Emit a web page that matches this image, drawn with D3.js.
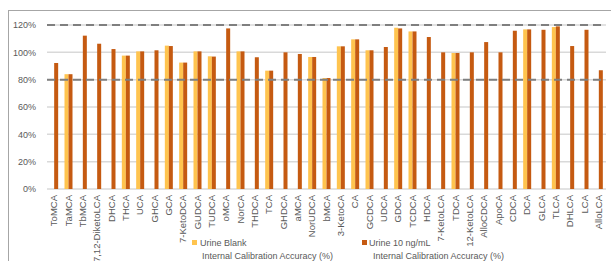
<!DOCTYPE html>
<html>
<head>
<meta charset="utf-8">
<script src="https://cdn.jsdelivr.net/npm/d3@7"></script>
<style>
  body { margin: 0; background: #fff; }
  text { font-family: "Liberation Sans", Arial, sans-serif; }
</style>
</head>
<body>
<div id="chart"></div>
<script>
const categories = ['ToMCA', 'TaMCA', 'TbMCA', '7,12-DiketoLCA', 'DHCA', 'THCA', 'UCA', 'GHCA', 'GCA',
  '7-KetoDCA', 'GUDCA', 'TUDCA', 'oMCA', 'NorCA', 'THDCA', 'TCA', 'GHDCA', 'aMCA', 'NorUDCA', 'bMCA',
  '3-KetoCA', 'CA', 'GCDCA', 'UDCA', 'GDCA', 'TCDCA', 'HDCA', '7-KetoLCA', 'TDCA', '12-KetoLCA',
  'AlloCDCA', 'ApoCA', 'CDCA', 'DCA', 'GLCA', 'TLCA', 'DHLCA', 'LCA', 'AlloLCA'];

// Urine Blank (null = no bar)
const blankValues = [null, 84, null, null, null, 97.6, 100.7, null, 104.9,
  92.5, 100.7, 97.1, null, 100.7, null, 86.6, null, null, 96.6, 81.2,
  104.4, 109.5, 101.5, null, 118, 115.3, null, null, 99.5, null,
  null, null, null, 116.8, null, 118.5, null, null, null];

// Urine 10 ng/mL
const urineValues = [92.2, 84, 112.2, 106.3, 102.4, 97.6, 100.7, 101.5, 104.6,
  92.5, 100.7, 96.9, 117.5, 100.7, 96.4, 86.6, 100, 98.8, 96.6, 81.2,
  104.4, 109.5, 101.5, 103.9, 117.5, 115.3, 111.2, 100, 99.5, 100,
  107.5, 100, 115.8, 116.8, 116.5, 119, 104.6, 116.5, 86.9];

const seriesNames = ['Urine Blank', 'Urine 10 ng/mL'];
const seriesSub = 'Internal Calibration Accuracy (%)';
const yTicks = [0, 20, 40, 60, 80, 100, 120];
const refLines = [80, 120];

const W = 611, H = 261;
const margin = {top: 25, right: 5, bottom: 72, left: 47};
const colors = ['#FFC44F', '#C55A11'];

const svg = d3.select('#chart').append('svg')
  .attr('width', W)
  .attr('height', H);

svg.append('rect').attr('width', W).attr('height', H).attr('fill', '#fff');

// chart frame (right/bottom edges fall outside the view)
svg.append('rect')
  .attr('x', 8.5).attr('y', 10.5)
  .attr('width', W + 10).attr('height', H + 10)
  .attr('fill', 'none').attr('stroke', '#A6A6A6').attr('stroke-width', 1);

const y = d3.scaleLinear()
  .domain([0, 120])
  .range([H - margin.bottom, margin.top]);

const x0 = d3.scaleBand()
  .domain(categories)
  .range([margin.left, W - margin.right]);

const inner = 8;
const x1 = d3.scaleBand()
  .domain([0, 1])
  .range([(x0.bandwidth() - inner) / 2, (x0.bandwidth() + inner) / 2]);

// gridlines
svg.append('g')
  .selectAll('line')
  .data(yTicks)
  .enter().append('line')
  .attr('x1', margin.left).attr('x2', W - margin.right)
  .attr('y1', d => y(d)).attr('y2', d => y(d))
  .attr('stroke', '#D9D9D9').attr('stroke-width', 1.5);

// y axis labels
const yAxis = d3.axisLeft(y)
  .tickValues(yTicks)
  .tickSize(0)
  .tickPadding(11)
  .tickFormat(d => d + '%');

svg.append('g')
  .attr('transform', 'translate(' + margin.left + ',0)')
  .call(yAxis)
  .call(g => g.select('.domain').remove())
  .call(g => g.selectAll('.tick text')
    .attr('fill', '#595959')
    .style('font-size', '9px')
    .style('font-family', '"Liberation Sans", Arial, sans-serif'));

// bars
const seriesData = [blankValues, urineValues];
svg.append('g')
  .selectAll('g')
  .data(seriesData)
  .enter().append('g')
  .attr('fill', (d, i) => colors[i])
  .attr('transform', (d, i) => 'translate(' + x1(i) + ',0)')
  .selectAll('rect')
  .data(d => d.map((v, j) => ({v: v, c: categories[j]})).filter(o => o.v != null))
  .enter().append('rect')
  .attr('x', d => x0(d.c))
  .attr('width', x1.bandwidth())
  .attr('y', d => y(d.v))
  .attr('height', d => y(0) - y(d.v));

// dashed reference lines
svg.append('g')
  .selectAll('line')
  .data(refLines)
  .enter().append('line')
  .attr('x1', margin.left).attr('x2', W - margin.right)
  .attr('y1', d => y(d)).attr('y2', d => y(d))
  .attr('stroke', '#7F7F7F').attr('stroke-width', 2)
  .attr('stroke-dasharray', '8,5');

// x axis labels
const xAxis = d3.axisBottom(x0)
  .tickSize(0)
  .tickPadding(0);

svg.append('g')
  .attr('transform', 'translate(0,' + y(0) + ')')
  .call(xAxis)
  .call(g => g.select('.domain').remove())
  .call(g => g.selectAll('.tick text')
    .attr('fill', '#595959')
    .style('font-size', '9.5px')
    .style('font-family', '"Liberation Sans", Arial, sans-serif')
    .attr('text-anchor', 'end')
    .attr('transform', 'rotate(-90)')
    .attr('x', -6)
    .attr('y', 0)
    .attr('dy', '0.35em'));

// legend
const legendPos = [{sx: 192, tx: 200, tx2: 202}, {sx: 362, tx: 369, tx2: 373}];
const legend = svg.append('g')
  .selectAll('g')
  .data(seriesNames)
  .enter().append('g');

legend.append('rect')
  .attr('x', (d, i) => legendPos[i].sx)
  .attr('y', 240)
  .attr('width', 5).attr('height', 5)
  .attr('fill', (d, i) => colors[i]);

legend.append('text')
  .attr('x', (d, i) => legendPos[i].tx)
  .attr('y', 246)
  .attr('fill', '#595959')
  .style('font-size', '9px')
  .text(d => d);

legend.append('text')
  .attr('x', (d, i) => legendPos[i].tx2)
  .attr('y', 258.5)
  .attr('fill', '#595959')
  .style('font-size', '9px')
  .text(seriesSub);
</script>
</body>
</html>
